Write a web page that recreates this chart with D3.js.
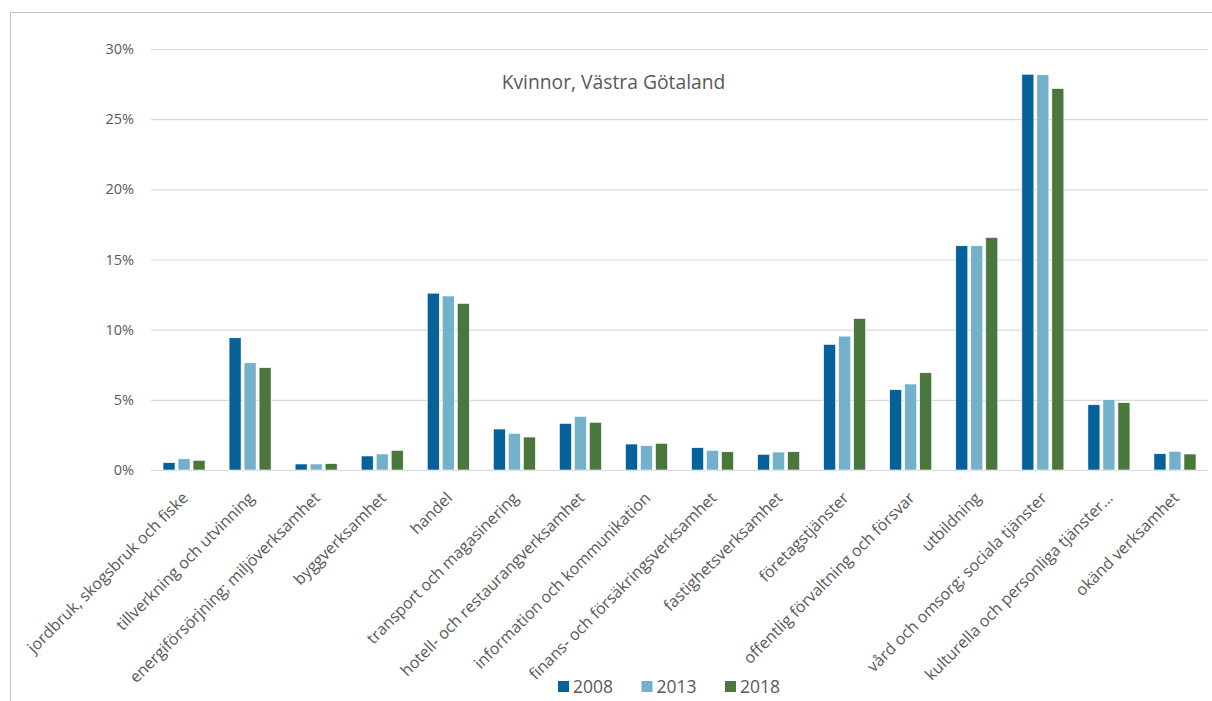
<!DOCTYPE html>
<html lang="sv">
<head>
  <meta charset="UTF-8">
  <script src="https://d3js.org/d3.v7.min.js"></script>
  <style>
    body {
      margin: 0;
      background: #fff;
      font-family: "Open Sans", Arial, sans-serif;
    }
    svg text { fill: #595959; }
  </style>
</head>
<body>
  <div id="chart"></div>

  <script>
    // data (share of employed women, %)
    const categories = [
      "jordbruk, skogsbruk och fiske",
      "tillverkning och utvinning",
      "energiförsörjning; miljöverksamhet",
      "byggverksamhet",
      "handel",
      "transport och magasinering",
      "hotell- och restaurangverksamhet",
      "information och kommunikation",
      "finans- och försäkringsverksamhet",
      "fastighetsverksamhet",
      "företagstjänster",
      "offentlig förvaltning och försvar",
      "utbildning",
      "vård och omsorg; sociala tjänster",
      "kulturella och personliga tjänster…",
      "okänd verksamhet"
    ];
    const years = ["2008", "2013", "2018"];
    const values2008 = [0.52, 9.42, 0.43, 1.0, 12.6, 2.92, 3.32, 1.85, 1.59, 1.12, 8.95, 5.72, 15.98, 28.2, 4.65, 1.16];
    const values2013 = [0.80, 7.64, 0.43, 1.14, 12.4, 2.61, 3.82, 1.73, 1.40, 1.28, 9.54, 6.13, 15.98, 28.16, 5.01, 1.33];
    const values2018 = [0.69, 7.29, 0.45, 1.40, 11.87, 2.35, 3.40, 1.90, 1.30, 1.30, 10.80, 6.93, 16.57, 27.18, 4.80, 1.14];
    const yTicks = [0, 5, 10, 15, 20, 25, 30];
    const colors = ["#05619a", "#73b1cb", "#4a773c"];

    const series = [values2008, values2013, values2018];

    const width = 1212, height = 701;
    const margin = { left: 151, right: 4, top: 49, bottom: 231 };

    const svg = d3.select("#chart").append("svg")
      .attr("width", width)
      .attr("height", height);

    // outer frame (cut off on the right and bottom like the source)
    svg.append("path")
      .attr("d", `M10.5,${height} V12.5 H${width}`)
      .attr("fill", "none")
      .attr("stroke", "#bfbfbf")
      .attr("stroke-width", 1);

    const x = d3.scaleBand()
      .domain(categories)
      .range([margin.left, width - margin.right])
      .paddingInner(0.364)
      .paddingOuter(0.182);

    const xSub = d3.scaleBand()
      .domain(years)
      .range([0, x.bandwidth()])
      .paddingInner(0.2);

    const y = d3.scaleLinear()
      .domain([0, 30])
      .range([height - margin.bottom, margin.top]);

    // gridlines + y labels
    const yAxis = svg.append("g")
      .attr("transform", `translate(${margin.left},0)`)
      .call(d3.axisLeft(y).tickValues(yTicks).tickFormat(d => d + "%")
        .tickSize(-(width - margin.right - margin.left)).tickPadding(17));
    yAxis.select(".domain").remove();
    yAxis.selectAll(".tick line").attr("stroke", "#d9d9d9").attr("stroke-width", 1.2);
    yAxis.selectAll(".tick text")
      .attr("font-family", "'Open Sans', sans-serif")
      .attr("font-size", 14.5);

    // bars
    const groups = svg.append("g")
      .selectAll("g")
      .data(categories)
      .enter()
      .append("g")
      .attr("transform", d => `translate(${x(d)},0)`);

    groups.selectAll("rect")
      .data((d, i) => years.map((yr, s) => ({ yr, s, v: series[s][i] })))
      .enter()
      .append("rect")
      .attr("x", d => xSub(d.yr))
      .attr("width", xSub.bandwidth())
      .attr("y", d => y(d.v))
      .attr("height", d => y(0) - y(d.v))
      .attr("fill", d => colors[d.s])
      .attr("stroke", "#ffffff")
      .attr("stroke-width", 0.6);

    // category labels
    const xAxis = svg.append("g")
      .attr("transform", `translate(0,${y(0)})`)
      .call(d3.axisBottom(x).tickSize(0).tickPadding(0));
    xAxis.select(".domain").remove();
    xAxis.selectAll(".tick text")
      .attr("font-family", "'Open Sans', sans-serif")
      .attr("font-size", 16)
      .attr("text-anchor", "end")
      .attr("dy", null)
      .attr("y", 0)
      .attr("transform", "translate(5,29) rotate(-45)");

    // title
    svg.append("text")
      .attr("x", 613.5)
      .attr("y", 89)
      .attr("text-anchor", "middle")
      .attr("font-size", 19.3)
      .text("Kvinnor, Västra Götaland");

    // legend
    const legendX = d3.scalePoint().domain(years).range([558, 725]);
    const legend = svg.append("g")
      .selectAll("g")
      .data(years)
      .enter()
      .append("g")
      .attr("transform", d => `translate(${legendX(d)},681)`);
    legend.append("rect")
      .attr("width", 11)
      .attr("height", 11)
      .attr("fill", (d, i) => colors[i]);
    legend.append("text")
      .attr("x", 15)
      .attr("y", 11.5)
      .attr("font-size", 17.5)
      .text(d => d);
  </script>
</body>
</html>
